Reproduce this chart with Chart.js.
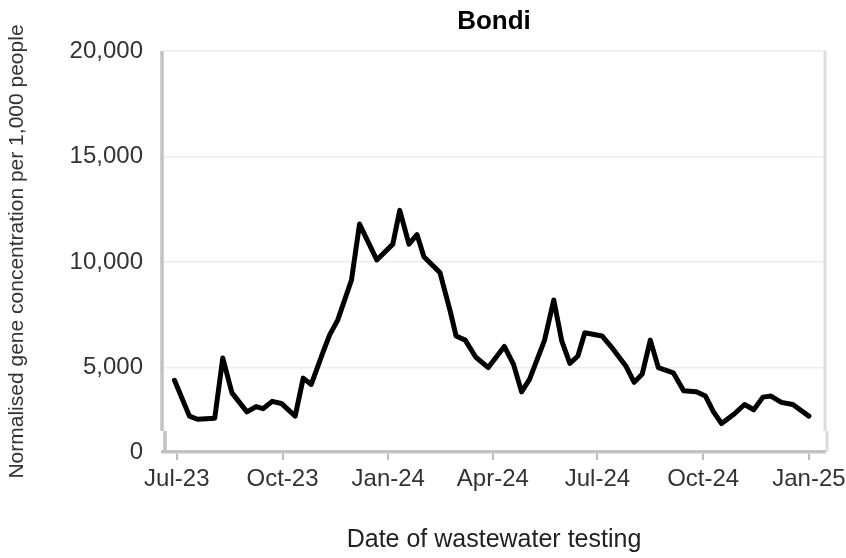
<!DOCTYPE html>
<html>
<head>
<meta charset="utf-8">
<script src="https://cdn.jsdelivr.net/npm/chart.js@4.4.1/dist/chart.umd.min.js"></script>
<style>
  html, body { margin: 0; padding: 0; background: #fff; }
</style>
</head>
<body>
<canvas id="bondiChart" width="846" height="558"></canvas>
<script>
// sample dates and values
const sampleDates = [
    '2023-06-29', '2023-07-12', '2023-07-19', '2023-08-03', '2023-08-10', '2023-08-18',
    '2023-08-31', '2023-09-08', '2023-09-14', '2023-09-22', '2023-09-30', '2023-10-12',
    '2023-10-19', '2023-10-26', '2023-11-05', '2023-11-11', '2023-11-18', '2023-11-30',
    '2023-12-07', '2023-12-22', '2024-01-05', '2024-01-11', '2024-01-19', '2024-01-26',
    '2024-02-01', '2024-02-15', '2024-02-24', '2024-02-29', '2024-03-08', '2024-03-17',
    '2024-03-28', '2024-04-11', '2024-04-19', '2024-04-26', '2024-05-03', '2024-05-16',
    '2024-05-24', '2024-05-31', '2024-06-07', '2024-06-14', '2024-06-20', '2024-07-05',
    '2024-07-15', '2024-07-26', '2024-08-02', '2024-08-09', '2024-08-16', '2024-08-23',
    '2024-09-05', '2024-09-14', '2024-09-25', '2024-10-03', '2024-10-10', '2024-10-17',
    '2024-10-28', '2024-11-06', '2024-11-14', '2024-11-22', '2024-11-29', '2024-12-08',
    '2024-12-18', '2025-01-01'
];
const geneConc = [
    4400, 2700, 2550, 2600, 5450, 3800,
    2900, 3150, 3050, 3400, 3300, 2700,
    4500, 4200, 5700, 6550, 7250, 9150,
    11800, 10100, 10850, 12450, 10850, 11300,
    10250, 9500, 7650, 6500, 6300, 5500,
    5000, 6000, 5150, 3850, 4450, 6300,
    8200, 6250, 5200, 5550, 6650, 6500,
    5850, 5050, 4300, 4700, 6300, 5000,
    4750, 3900, 3850, 3650, 2900, 2350,
    2800, 3250, 3000, 3600, 3650, 3350,
    3250, 2700
];

const tickDates = ['2023-07-01', '2023-10-01', '2024-01-01', '2024-04-01', '2024-07-01', '2024-10-01', '2025-01-01'];
const tickLabels = ['Jul-23', 'Oct-23', 'Jan-24', 'Apr-24', 'Jul-24', 'Oct-24', 'Jan-25'];

// the original axis is broken: the bottom tick stands for 0
const yTicks = [1000, 5000, 10000, 15000, 20000];
const yTickLabels = ['0', '5,000', '10,000', '15,000', '20,000'];

const startDate = Date.parse('2023-07-01');
function dayOf(s) {
    return (Date.parse(s) - startDate) / 86400000;
}

Chart.defaults.font.family = "'Liberation Sans', Arial, sans-serif";
Chart.defaults.color = '#333';

// grey frame with the little break near the bottom of the y axis
const frameBreak = {
    id: 'frameBreak',
    beforeDatasetsDraw(chart) {
        const { ctx, chartArea, scales } = chart;
        const breakY = scales.y.getPixelForValue(2000);
        ctx.save();
        ctx.lineWidth = 3.5;
        ctx.strokeStyle = '#c2c2c2';
        ctx.beginPath();
        ctx.moveTo(chartArea.left - 1, chartArea.top);
        ctx.lineTo(chartArea.left - 1, breakY);
        ctx.moveTo(chartArea.left + 2, breakY);
        ctx.lineTo(chartArea.left + 2, chartArea.bottom);
        ctx.stroke();
        ctx.lineWidth = 3;
        ctx.strokeStyle = '#dcdcdc';
        ctx.beginPath();
        ctx.moveTo(chartArea.right, chartArea.top);
        ctx.lineTo(chartArea.right, breakY);
        ctx.moveTo(chartArea.right + 2, breakY);
        ctx.lineTo(chartArea.right + 2, chartArea.bottom);
        ctx.stroke();
        ctx.restore();
    }
};

const ctx = document.getElementById('bondiChart').getContext('2d');
new Chart(ctx, {
    type: 'line',
    data: {
        datasets: [{
            label: 'Bondi',
            data: sampleDates.map((d, i) => ({ x: dayOf(d), y: geneConc[i] })),
            borderColor: '#000',
            borderWidth: 5,
            borderJoinStyle: 'round',
            borderCapStyle: 'round',
            pointRadius: 0,
            tension: 0,
            fill: false
        }]
    },
    options: {
        responsive: false,
        animation: false,
        devicePixelRatio: 1,
        layout: { padding: { left: 0, right: 21, top: 0, bottom: 0 } },
        plugins: {
            legend: { display: false },
            tooltip: { enabled: false },
            title: {
                display: true,
                text: 'Bondi',
                fullSize: false,
                color: '#000',
                font: { size: 26, weight: 'bold' },
                padding: { top: 6, bottom: 13.8 }
            }
        },
        scales: {
            x: {
                type: 'linear',
                min: -12,
                max: 564,
                afterBuildTicks: function(scale) {
                    scale.ticks = tickDates.map(d => ({ value: dayOf(d) }));
                },
                afterFit: function(scale) {
                    scale.height = 106;
                    // let the last label hang into the right margin
                    scale.paddingLeft = 0;
                    scale.paddingRight = 0;
                },
                ticks: {
                    font: { size: 24 },
                    color: '#333',
                    padding: 5,
                    maxRotation: 0,
                    callback: function(value, index) {
                        return tickLabels[index];
                    }
                },
                grid: {
                    drawOnChartArea: false,
                    drawTicks: true,
                    tickLength: 8,
                    color: '#bdbdbd',
                    lineWidth: 2
                },
                border: { display: true, color: '#c2c2c2', width: 3.5 },
                title: {
                    display: true,
                    text: 'Date of wastewater testing',
                    color: '#222',
                    font: { size: 25 },
                    padding: { top: 0, bottom: 3 }
                }
            },
            y: {
                min: 1000,
                max: 20000,
                afterBuildTicks: function(scale) {
                    scale.ticks = yTicks.map(v => ({ value: v }));
                },
                afterFit: function(scale) {
                    scale.width = 163;
                },
                ticks: {
                    font: { size: 24 },
                    color: '#333',
                    padding: 20,
                    callback: function(value, index) {
                        return yTickLabels[index];
                    }
                },
                grid: {
                    color: '#ececec',
                    lineWidth: 1.5,
                    drawTicks: false
                },
                border: { display: false },
                title: {
                    display: true,
                    text: 'Normalised gene concentration per 1,000 people',
                    color: '#333',
                    font: { size: 21 },
                    padding: { top: 5, bottom: 0 }
                }
            }
        }
    },
    plugins: [frameBreak]
});
</script>
</body>
</html>
